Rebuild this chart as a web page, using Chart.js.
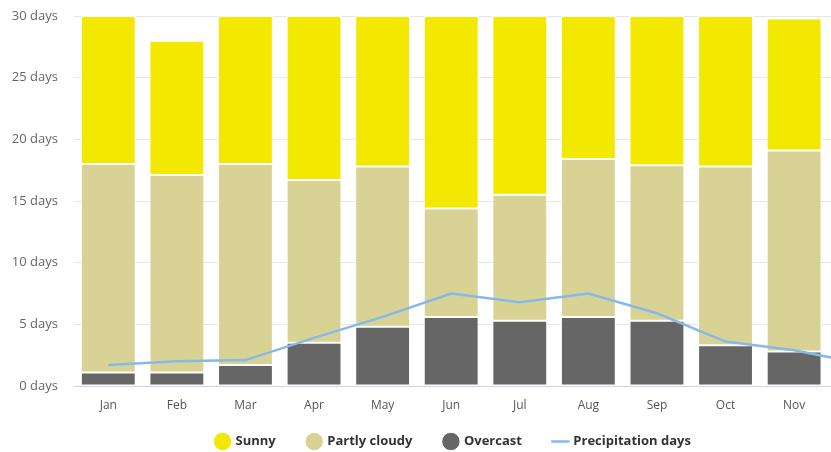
<!DOCTYPE html>
<html>
<head>
<meta charset="utf-8">
<script src="https://cdn.jsdelivr.net/npm/chart.js@4"></script>
<style>
  html, body { margin: 0; padding: 0; background: #fff; overflow: hidden; }
  #wrap { width: 906px; height: 452px; }
</style>
</head>
<body>
<div id="wrap"><canvas id="weather"></canvas></div>
<script>
var months = ["Jan", "Feb", "Mar", "Apr", "May", "Jun", "Jul", "Aug", "Sep", "Oct", "Nov", "Dec"];
var overcast = [1.1, 1.1, 1.7, 3.5, 4.8, 5.6, 5.3, 5.6, 5.3, 3.3, 2.8, 1.5];
var partlyCloudy = [16.9, 16.0, 16.3, 13.2, 13.0, 8.8, 10.2, 12.8, 12.6, 14.5, 16.3, 16.5];
var sunny = [12.0, 10.9, 12.0, 13.3, 12.2, 15.6, 14.5, 11.6, 12.1, 12.2, 10.7, 12.0];
var precipDays = [1.7, 2.0, 2.1, 3.9, 5.6, 7.5, 6.8, 7.5, 5.9, 3.6, 2.9, 1.8];
var legendOrder = ["Sunny", "Partly cloudy", "Overcast", "Precipitation days"];

document.addEventListener("DOMContentLoaded", function () {
    var ctx = document.getElementById("weather").getContext("2d");
    Chart.defaults.font.family = "'Open Sans', sans-serif";

    function barSet(label, values, color) {
        return {
            type: "bar",
            label: label,
            data: values,
            backgroundColor: color,
            borderColor: "#ffffff",
            borderWidth: 1,
            borderSkipped: false,
            stack: "sky",
            barPercentage: 0.8,
            categoryPercentage: 1,
            pointStyle: "circle",
            order: 2
        };
    }

    var data = {
        labels: months,
        datasets: [
            barSet("Overcast", overcast, "#666666"),
            barSet("Partly cloudy", partlyCloudy, "#d8d395"),
            barSet("Sunny", sunny, "#f3e800"),
            {
                type: "line",
                label: "Precipitation days",
                data: precipDays,
                borderColor: "#88b8e8",
                backgroundColor: "#88b8e8",
                borderWidth: 2.5,
                pointRadius: 0,
                tension: 0,
                stack: "rain",
                pointStyle: "line",
                order: 1
            }
        ]
    };

    // legend: wide gaps between items but a short box, so it sits close to the axis
    var legendTweak = {
        id: "legendTweak",
        beforeLayout: function (chart) {
            var lg = chart.legend;
            if (!lg || lg._tweaked) return;
            lg._tweaked = true;
            var fit = lg.fit, draw = lg.draw;
            lg.fit = function () {
                fit.call(this);
                this.height = 40;
            };
            lg.draw = function () {
                var t = this.top;
                this.top = t - 9;
                draw.call(this);
                this.top = t;
            };
        }
    };

    var options = {
        responsive: true,
        maintainAspectRatio: false,
        animation: false,
        layout: { padding: { top: 16, left: 10, right: 9, bottom: 0 } },
        scales: {
            x: {
                stacked: true,
                grid: { display: false, drawTicks: false },
                border: { display: true, color: "#ccd6eb", width: 1 },
                afterFit: function (scale) { scale.height = 26; },
                ticks: { color: "#555", font: { size: 12 }, padding: 12 }
            },
            y: {
                stacked: true,
                min: 0,
                max: 30,
                grid: { color: "#e6e6e6", drawTicks: false },
                border: { display: false },
                afterFit: function (scale) {
                    scale.width = 64;
                    scale.paddingTop = 0;
                    scale.paddingBottom = 0;
                },
                ticks: {
                    stepSize: 5,
                    color: "#666",
                    font: { size: 13 },
                    padding: 16,
                    callback: function (v) { return v + " days"; }
                }
            }
        },
        plugins: {
            legend: {
                position: "bottom",
                labels: {
                    usePointStyle: true,
                    boxWidth: 13,
                    boxHeight: 13,
                    padding: 32,
                    color: "#333",
                    font: { size: 13, weight: "bold" },
                    sort: function (a, b) {
                        return legendOrder.indexOf(a.text) - legendOrder.indexOf(b.text);
                    }
                }
            },
            tooltip: { enabled: false }
        }
    };

    new Chart(ctx, { data: data, options: options, plugins: [legendTweak] });
});
</script>
</body>
</html>
